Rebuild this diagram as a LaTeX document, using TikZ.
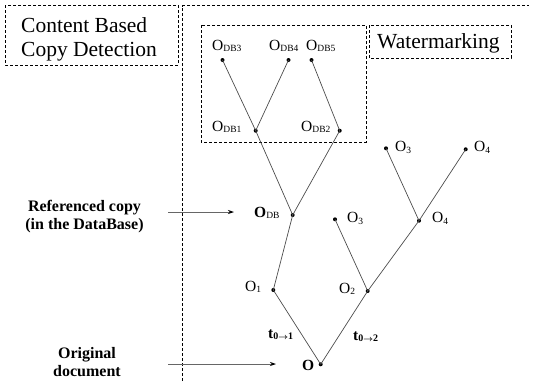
\documentclass[tikz,border=0pt]{standalone}
\usepackage{fontspec}
\setmainfont{Liberation Serif}
\usetikzlibrary{arrows.meta}
\newcommand\lsub[1]{\raisebox{-1.6pt}{\fontsize{9.5}{9.5}\selectfont\mdseries #1}}
\newcommand\bsub[1]{\raisebox{-1.6pt}{\fontsize{10}{10}\selectfont\bfseries #1}}
\newcommand\barr{{\fontsize{8.5}{8.5}\selectfont\boldmath$\rightarrow$}}
\begin{document}
\begin{tikzpicture}[x=1pt,y=-1pt,
  dot/.style={circle,fill=black,inner sep=0pt,minimum size=4pt},
  lbl/.style={inner sep=0pt,anchor=base west,font=\fontsize{15.5}{15.5}\selectfont},
  blbl/.style={inner sep=0pt,anchor=base west,font=\fontsize{15.5}{15.5}\selectfont\bfseries},
  edge/.style={draw=black!70,line width=0.7pt},
  dbox/.style={draw=black,line width=0.8pt,dash pattern=on 3pt off 2pt},
  big/.style={inner sep=0pt,anchor=base west,align=left,font=\fontsize{21.5}{24}\selectfont},
  side/.style={inner sep=0pt,anchor=base,align=center,font=\fontsize{16}{17.5}\selectfont\bfseries},
  pointer/.style={draw=black!60,line width=0.8pt,-{Stealth[length=6pt,width=4pt,black]}},
]
\useasboundingbox (0,0) rectangle (533,381);
% dashed frames
\draw[dbox] (5,5) rectangle (178,65);
\draw[dbox] (182.7,381) -- (182.7,5.5) -- (529,5.5);
\draw[dbox] (201,25) rectangle (366,142);
\draw[dbox] (369,25) rectangle (511,58);
\node[big] (cbcd) at (21,56) {Content Based\\Copy Detection};
\node[big] (wm) at (377,48) {Watermarking};
% side texts
\node[side] (ref) at (84.5,229) {Referenced copy\\(in the DataBase)};
\node[side] (orig) at (87,376) {Original\\document};
% dots
\node[dot] (db3) at (222.5,60) {};
\node[dot] (db4) at (288.5,60) {};
\node[dot] (db5) at (311.5,60) {};
\node[dot] (db1) at (255.7,130.7) {};
\node[dot] (db2) at (339.7,130.7) {};
\node[dot] (odb) at (292.7,215) {};
\node[dot] (o1) at (273.3,290) {};
\node[dot] (o) at (320.7,364.3) {};
\node[dot] (o2) at (367.7,291) {};
\node[dot] (o3a) at (335,219.3) {};
\node[dot] (o4a) at (419,220.7) {};
\node[dot] (o3b) at (386,148.3) {};
\node[dot] (o4b) at (465.7,149.3) {};
% labels
\node[lbl] (ldb3) at (212,50) {O\lsub{DB3}};
\node[lbl] (ldb4) at (269,50) {O\lsub{DB4}};
\node[lbl] (ldb5) at (306,50) {O\lsub{DB5}};
\node[lbl] (ldb1) at (212,131) {O\lsub{DB1}};
\node[lbl] (ldb2) at (301,131) {O\lsub{DB2}};
\node[blbl] (lodb) at (254,217) {O\lsub{DB}};
\node[lbl] (lo1) at (245,291) {O\lsub{1}};
\node[lbl] (lo2) at (339,293) {O\lsub{2}};
\node[lbl] (lo3a) at (347,222.5) {O\lsub{3}};
\node[lbl] (lo4a) at (432,222.5) {O\lsub{4}};
\node[lbl] (lo3b) at (395,151.5) {O\lsub{3}};
\node[lbl] (lo4b) at (474,151.5) {O\lsub{4}};
\node[blbl] (lo) at (302,370) {O};
\node[blbl] (t1) at (268,338) {t\bsub{0\barr1}};
\node[blbl] (t2) at (353,340) {t\bsub{0\barr2}};
% edges
\draw[edge] (o.center) -- (o1.center) -- (odb.center) -- (db1.center) -- (db3.center);
\draw[edge] (db1.center) -- (db4.center);
\draw[edge] (odb.center) -- (db2.center) -- (db5.center);
\draw[edge] (o.center) -- (o2.center) -- (o4a.center) -- (o4b.center);
\draw[edge] (o2.center) -- (o3a.center);
\draw[edge] (o4a.center) -- (o3b.center);
% pointers
\coordinate (p1s) at (168,212);
\coordinate (p1e) at (234,212);
\coordinate (p2s) at (168,364);
\coordinate (p2e) at (276,364);
\draw[pointer] (p1s) -- (p1e);
\draw[pointer] (p2s) -- (p2e);
\end{tikzpicture}
\end{document}
